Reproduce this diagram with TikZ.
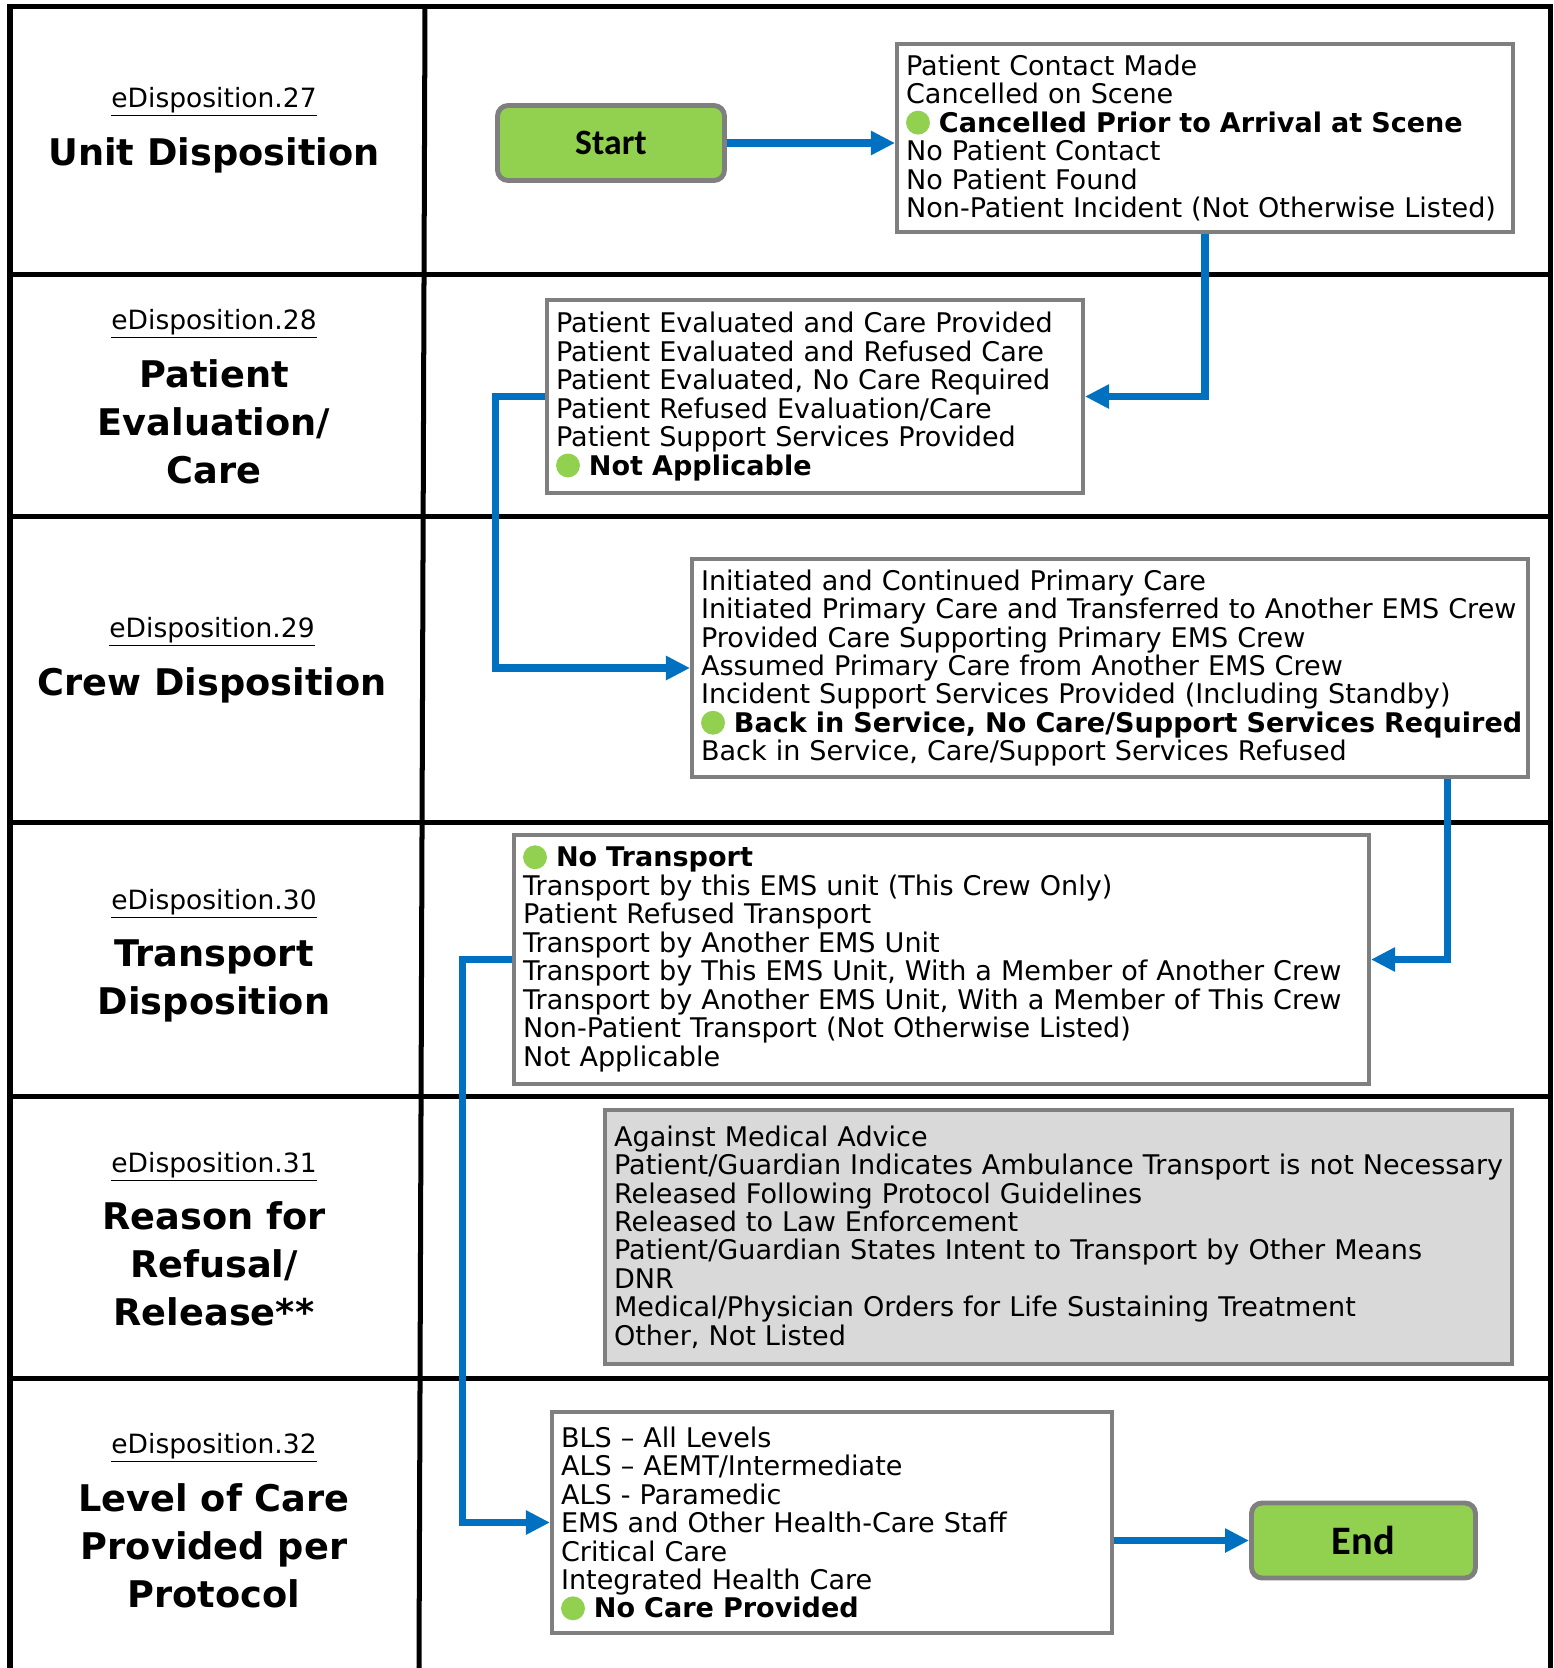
\documentclass[tikz,border=0pt]{standalone}
\usepackage{fontspec}
\setmainfont{DejaVu Sans}
\newfontfamily\calfont{Carlito}
\usetikzlibrary{arrows.meta}

\definecolor{boxgray}{HTML}{7F7F7F}
\definecolor{fillgray}{HTML}{D9D9D9}
\definecolor{termgreen}{HTML}{92D050}
\definecolor{flowblue}{HTML}{0070C0}

\newcommand{\gdot}{\smash{\tikz[baseline=-5.5pt]\fill[termgreen] (0,0) circle (6.8pt);}\ }
\newcommand{\items}[1]{\vbox{\let\\\cr\halign{##\hfil\cr#1\crcr}}}

\begin{document}
\begin{tikzpicture}[x=0.02cm, y=-0.02cm]
\tikzstyle{grid}=[line width=2.85pt]
\tikzstyle{tag}=[font=\fontsize{15.1}{18}\selectfont]
\tikzstyle{heading}=[align=center,
                     font=\fontsize{20.9}{27.3}\selectfont\bfseries]
\tikzstyle{listbox}=[draw=boxgray, line width=2.3pt, fill=white,
                     align=left, inner xsep=0.18cm,
                     font=\fontsize{15.4}{16.2}\selectfont]
\tikzstyle{termbox}=[draw=boxgray, line width=2.8pt, fill=termgreen,
                     rounded corners=6pt, minimum height=1.5cm]
\tikzstyle{flow}=[draw=flowblue, line width=4pt,
                  -{Triangle[length=13.7pt, width=13pt]}]
\useasboundingbox (0,0) rectangle (1554,1668);
% table
\draw[grid] (10,1668) -- (10,6.5) -- (1550,6.5) -- (1550,1668);
\draw[grid] (10,274) -- (1550,274);
\draw[grid] (10,516) -- (1550,516);
\draw[grid] (10,822) -- (1550,822);
\draw[grid] (10,1096) -- (1550,1096);
\draw[grid] (10,1378) -- (1550,1378);
\draw[grid] (425,6.5) -- (419,1668);
% left column
\node[tag] (t27) at (214,101.5) {\underline{eDisposition.27}};
\node[heading] (h27) at (214,155) {Unit Disposition};
\node[tag] (t28) at (214,323.5) {\underline{eDisposition.28}};
\node[heading] (h28) at (214,422) {Patient\\Evaluation/\\Care};
\node[tag] (t29) at (212,631.5) {\underline{eDisposition.29}};
\node[heading] (h29) at (212,685) {Crew Disposition};
\node[tag] (t30) at (214,903.5) {\underline{eDisposition.30}};
\node[heading] (h30) at (214,981) {Transport\\Disposition};
\node[tag] (t31) at (214,1166.5) {\underline{eDisposition.31}};
\node[heading] (h31) at (214,1264) {Reason for\\Refusal/\\Release**};
\node[tag] (t32) at (214,1447.5) {\underline{eDisposition.32}};
\node[heading] (h32) at (214,1546) {Level of Care\\Provided per\\Protocol};
% flow
\node[termbox, minimum width=4.54cm,
      font=\calfont\bfseries\fontsize{20.3}{24}\selectfont] (start) at (611,143) {Start};
\node[listbox, minimum height=3.76cm, text width=11.96cm] (b27) at (1205,138) {\items{%
Patient Contact Made\\
Cancelled on Scene\\
\gdot\textbf{Cancelled Prior to Arrival at Scene}\\
No Patient Contact\\
No Patient Found\\
Non-Patient Incident (Not Otherwise Listed)}};
\node[listbox, minimum height=3.86cm, text width=10.36cm] (b28) at (815,396.5) {\items{%
Patient Evaluated and Care Provided\\
Patient Evaluated and Refused Care\\
Patient Evaluated, No Care Required\\
Patient Refused Evaluation/Care\\
Patient Support Services Provided\\
\gdot\textbf{Not Applicable}}};
\node[listbox, minimum height=4.36cm, text width=16.36cm] (b29) at (1110,668) {\items{%
Initiated and Continued Primary Care\\
Initiated Primary Care and Transferred to Another EMS Crew\\
Provided Care Supporting Primary EMS Crew\\
Assumed Primary Care from Another EMS Crew\\
Incident Support Services Provided (Including Standby)\\
\gdot\textbf{Back in Service, No Care/Support Services Required}\\
Back in Service, Care/Support Services Refused}};
\node[listbox, minimum height=4.98cm, text width=16.74cm] (b30) at (941.5,959.5) {\items{%
\gdot\textbf{No Transport}\\
Transport by this EMS unit (This Crew Only)\\
Patient Refused Transport\\
Transport by Another EMS Unit\\
Transport by This EMS Unit, With a Member of Another Crew\\
Transport by Another EMS Unit, With a Member of This Crew\\
Non-Patient Transport (Not Otherwise Listed)\\
Not Applicable}};
\node[listbox, fill=fillgray, minimum height=5.08cm, text width=17.78cm] (b31) at (1058.5,1237) {\items{%
Against Medical Advice\\
Patient/Guardian Indicates Ambulance Transport is not Necessary\\
Released Following Protocol Guidelines\\
Released to Law Enforcement\\
Patient/Guardian States Intent to Transport by Other Means\\
DNR\\
Medical/Physician Orders for Life Sustaining Treatment\\
Other, Not Listed}};
\node[listbox, minimum height=4.42cm, text width=10.84cm] (b32) at (832,1522.5) {\items{%
BLS – All Levels\\
ALS – AEMT/Intermediate\\
ALS - Paramedic\\
EMS and Other Health-Care Staff\\
Critical Care\\
Integrated Health Care\\
\gdot\textbf{No Care Provided}}};
\node[termbox, minimum width=4.48cm,
      font=\calfont\bfseries\fontsize{23}{27}\selectfont] (finish) at (1363.5,1540.5) {End};
\draw[flow] (start.east) -- (start.east -| b27.west);
\draw[flow] (b27.south) |- (b28.east);
\draw[flow] (b28.west) -- ++(-50,0) |- (b29.west);
\draw[flow] (b29.south east) ++(-82,0) |- (b30.east);
\draw[flow] (b30.west) -- ++(-50,0) |- (b32.west);
\draw[flow] (finish.west -| b32.east) -- (finish.west);
\end{tikzpicture}
\end{document}
